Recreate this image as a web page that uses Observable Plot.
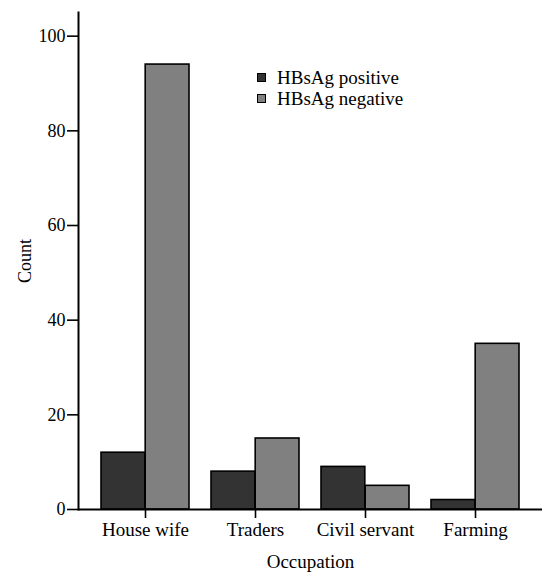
<!DOCTYPE html>
<html>
<head>
<meta charset="utf-8">
<script src="https://cdn.jsdelivr.net/npm/d3@7"></script>
<script src="https://cdn.jsdelivr.net/npm/@observablehq/plot@0.6"></script>
<style>
  body { margin: 0; background: #fff; }
  #wrap { position: relative; width: 542px; height: 573px; overflow: hidden; font-family: 'Liberation Serif', 'DejaVu Serif', 'Noto Serif', serif; }
  #wrap svg, #wrap svg text { font-family: 'Liberation Serif', 'DejaVu Serif', 'Noto Serif', serif !important; }
  #legend { position: absolute; left: 257px; top: 67px; font-size: 19px; line-height: 21px; color: #000; }
  #legend .row { display: flex; align-items: center; }
  #legend .sw { width: 7px; height: 7px; border: 1.5px solid #000; margin-right: 11px; }
</style>
</head>
<body>
<div id="wrap"><div id="legend"></div></div>
<script>
const occupations = ["House wife", "Traders", "Civil servant", "Farming"];
const series = ["HBsAg positive", "HBsAg negative"];
const positive = [12, 8, 9, 2];
const negative = [94, 15, 5, 35];
const colors = ["#333333", "#808080"];
const yTicks = [0, 20, 40, 60, 80, 100];

const data = [];
occupations.forEach((o, i) => {
  data.push({occupation: o, status: series[0], count: positive[i]});
  data.push({occupation: o, status: series[1], count: negative[i]});
});

const W = 542, H = 573, mL = 78, mR = 0, mT = 12, mB = 64;
const xs = Plot.scale({x: {type: "band", domain: occupations, range: [mL, W - mR], padding: 0.2}});
const half = xs.bandwidth / 2;

const chart = Plot.plot({
  width: W,
  height: H,
  marginLeft: mL,
  marginRight: mR,
  marginTop: mT,
  marginBottom: mB,
  style: {fontFamily: "'Liberation Serif', 'DejaVu Serif', 'Noto Serif', serif", fontSize: "19px", color: "#000", background: "#fff"},
  x: {domain: occupations, padding: 0.2, label: null},
  y: {domain: [0, 105], label: null},
  color: {domain: series, range: colors},
  marks: [
    Plot.barY(data.filter(d => d.status === series[0]), {x: "occupation", y: "count", fill: "status", stroke: "#000", strokeWidth: 1.6, insetRight: half, insetLeft: 0}),
    Plot.barY(data.filter(d => d.status === series[1]), {x: "occupation", y: "count", fill: "status", stroke: "#000", strokeWidth: 1.6, insetLeft: half, insetRight: 0}),
    Plot.axisY(yTicks, {tickSize: 11, tickPadding: 2, strokeWidth: 1.6, fontSize: 18, label: "Count", labelAnchor: "center", labelOffset: 60, labelArrow: false}),
    Plot.axisX({tickSize: 9, tickPadding: 4, strokeWidth: 1.6, fontSize: 19, label: "Occupation", labelAnchor: "center", labelOffset: 58, labelArrow: false}),
    Plot.ruleY([0], {stroke: "#000", strokeWidth: 2}),
    Plot.frame({anchor: "left", stroke: "#000", strokeWidth: 2})
  ]
});
document.getElementById("wrap").prepend(chart);

const legend = document.getElementById("legend");
series.forEach((s, i) => {
  const row = document.createElement("div");
  row.className = "row";
  const sw = document.createElement("div");
  sw.className = "sw";
  sw.style.background = colors[i];
  row.appendChild(sw);
  row.appendChild(document.createTextNode(s));
  legend.appendChild(row);
});
</script>
</body>
</html>
